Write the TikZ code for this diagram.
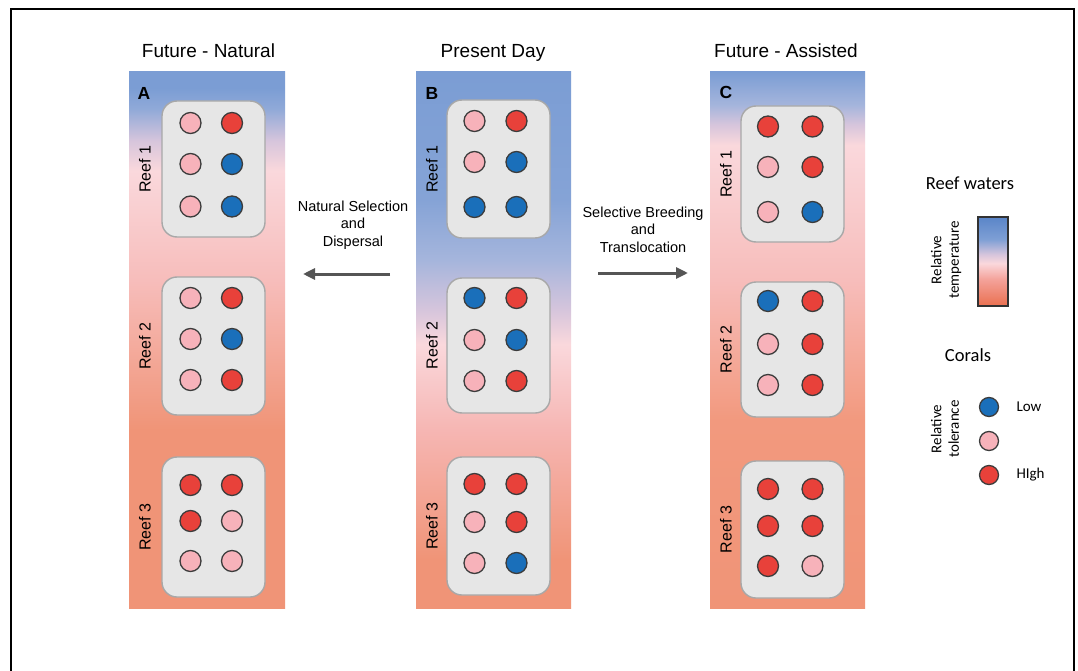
\documentclass[tikz,border=0pt]{standalone}
\usepackage{fontspec}
\setmainfont{Liberation Sans}
\newfontfamily\calfont{Carlito}
\usetikzlibrary{arrows.meta}
\definecolor{cpink}{HTML}{F7B2BA}
\definecolor{cred}{HTML}{E8413A}
\definecolor{cblue}{HTML}{1A6FBA}
\definecolor{sal}{HTML}{F09477}
\definecolor{salb}{HTML}{F2997E}
\definecolor{pkA}{HTML}{F7BDBB}
\definecolor{pkB}{HTML}{F6B6B3}
\definecolor{pale}{HTML}{FAD8DC}
\definecolor{lav}{HTML}{D6C5DC}
\definecolor{bluA}{HTML}{8FA9D8}
\definecolor{bluB}{HTML}{A5B5DC}
\definecolor{bluC}{HTML}{85A3D6}
\definecolor{blu}{HTML}{7B9DD4}
\definecolor{lgbot}{HTML}{EA7050}
\definecolor{lgpk}{HTML}{F4A29A}
\definecolor{lgblu}{HTML}{7E9FD5}
\definecolor{lgtop}{HTML}{5A85C8}
\definecolor{arrowgray}{HTML}{555555}
\pgfdeclareverticalshading{shA}{100bp}{color(0bp)=(sal); color(25bp)=(sal); color(41.6bp)=(sal); color(55.6bp)=(pkA); color(65.8bp)=(pale); color(68.6bp)=(lav); color(71.6bp)=(bluA); color(73.5bp)=(blu); color(100bp)=(blu)}
\pgfdeclareverticalshading{shB}{100bp}{color(0bp)=(sal); color(25bp)=(sal); color(29.5bp)=(sal); color(41.6bp)=(pkB); color(49.6bp)=(pale); color(52.8bp)=(lav); color(57.5bp)=(bluB); color(63.1bp)=(bluC); color(75bp)=(blu); color(100bp)=(blu)}
\pgfdeclareverticalshading{shC}{100bp}{color(0bp)=(sal); color(25bp)=(sal); color(42.5bp)=(salb); color(55.6bp)=(pkA); color(68.2bp)=(pale); color(70.1bp)=(lav); color(71.9bp)=(bluB); color(75bp)=(blu); color(100bp)=(blu)}
\pgfdeclareverticalshading{shL}{100bp}{color(0bp)=(lgbot); color(25bp)=(lgbot); color(40bp)=(lgpk); color(49bp)=(pale); color(54bp)=(lav); color(62.5bp)=(lgblu); color(75bp)=(lgtop); color(100bp)=(lgtop)}
\tikzset{
  panel/.style={inner sep=0pt, minimum height=536, draw=none},
  reefbox/.style={draw={rgb,255:red,168;green,168;blue,168}, line width=1.4pt, fill={rgb,255:red,230;green,230;blue,230}, rounded corners=15pt, minimum width=103, inner sep=0pt},
  coral/.style={circle, draw={rgb,255:red,60;green,60;blue,60}, line width=1.3pt, minimum size=21, inner sep=0pt},
  lcoral/.style={coral, minimum size=19},
  reeflab/.style={rotate=90, font=\fontsize{16}{18}\selectfont},
  title/.style={anchor=base, font=\fontsize{19}{22}\selectfont},
  letter/.style={anchor=base, font=\fontsize{17.5}{19}\selectfont\bfseries},
  arrowtxt/.style={align=center, font=\fontsize{14.5}{17.5}\selectfont},
  bigarrow/.style={draw=arrowgray, line width=3pt, -{Triangle[length=12pt,width=11pt]}},
  legtitle/.style={font=\calfont\fontsize{18.5}{20}\selectfont},
  legtxt/.style={font=\calfont\fontsize{15}{17.5}\selectfont, align=center}
}
\begin{document}
\begin{tikzpicture}[x=1pt,y=-1pt]
\useasboundingbox (0,0) rectangle (1078,671);
\fill[white] (0,0) rectangle (1078,671);
\draw[line width=1.5pt] (11,671) -- (11,9) -- (1074,9) -- (1074,671);

% panels
\node[panel, shading=shA, minimum width=156] (pA) at (207,340) {};
\node[panel, shading=shB, minimum width=155] (pB) at (493.5,340) {};
\node[panel, shading=shC, minimum width=155] (pC) at (787.5,340) {};

% titles
\node[title] (tA) at (208.5,58) {Future - Natural};
\node[title] (tB) at (493,58) {Present Day};
\node[title] (tC) at (786,58) {Future - Assisted};
\node[letter] (lA) at (144,100) {A};
\node[letter] (lB) at (432,100) {B};
\node[letter] (lC) at (726,99) {C};

% panel A
\foreach \r/\cy/\h/\ya/\yb/\yc/\ca/\cb/\cc/\cd/\ce/\cf in {
 1/169/136/123/164/206.5/cpink/cred/cpink/cblue/cpink/cblue,
 2/346/138/298/339/380/cpink/cred/cpink/cblue/cpink/cred,
 3/527/140/485/521/561/cred/cred/cred/cpink/cpink/cpink}{
 \node[reefbox, minimum height=\h] (A-box\r) at (213.5,\cy) {};
 \node[reeflab] (A-lab\r) at (145,\cy) {Reef \r};
 \node[coral, fill=\ca] (A-\r-1) at (190.5,\ya) {};
 \node[coral, fill=\cb] (A-\r-2) at (232,\ya) {};
 \node[coral, fill=\cc] (A-\r-3) at (190.5,\yb) {};
 \node[coral, fill=\cd] (A-\r-4) at (232,\yb) {};
 \node[coral, fill=\ce] (A-\r-5) at (190.5,\yc) {};
 \node[coral, fill=\cf] (A-\r-6) at (232,\yc) {};
}
% panel B
\foreach \r/\cy/\h/\ya/\yb/\yc/\ca/\cb/\cc/\cd/\ce/\cf in {
 1/169/138/121/162/207/cpink/cred/cpink/cblue/cblue/cblue,
 2/345.5/135/298/340/381/cblue/cred/cpink/cblue/cpink/cred,
 3/526/138/484/522/563/cred/cred/cpink/cred/cpink/cblue}{
 \node[reefbox, minimum height=\h] (B-box\r) at (498.5,\cy) {};
 \node[reeflab] (B-lab\r) at (432,\cy) {Reef \r};
 \node[coral, fill=\ca] (B-\r-1) at (474.5,\ya) {};
 \node[coral, fill=\cb] (B-\r-2) at (516.5,\ya) {};
 \node[coral, fill=\cc] (B-\r-3) at (474.5,\yb) {};
 \node[coral, fill=\cd] (B-\r-4) at (516.5,\yb) {};
 \node[coral, fill=\ce] (B-\r-5) at (474.5,\yc) {};
 \node[coral, fill=\cf] (B-\r-6) at (516.5,\yc) {};
}
% panel C
\foreach \r/\cy/\h/\ya/\yb/\yc/\ca/\cb/\cc/\cd/\ce/\cf in {
 1/174/136/126.5/167/212/cred/cred/cpink/cred/cpink/cblue,
 2/349.5/135/301/344/385/cblue/cred/cpink/cred/cpink/cred,
 3/529.5/137/489/526/566/cred/cred/cred/cred/cred/cpink}{
 \node[reefbox, minimum height=\h] (C-box\r) at (792.5,\cy) {};
 \node[reeflab] (C-lab\r) at (726,\cy) {Reef \r};
 \node[coral, fill=\ca] (C-\r-1) at (768,\ya) {};
 \node[coral, fill=\cb] (C-\r-2) at (812.5,\ya) {};
 \node[coral, fill=\cc] (C-\r-3) at (768,\yb) {};
 \node[coral, fill=\cd] (C-\r-4) at (812.5,\yb) {};
 \node[coral, fill=\ce] (C-\r-5) at (768,\yc) {};
 \node[coral, fill=\cf] (C-\r-6) at (812.5,\yc) {};
}

% arrows
\node[arrowtxt] (nsd) at (353,225) {Natural Selection\\and\\Dispersal};
\coordinate (nsS) at (390,274);
\coordinate (nsE) at (303,274);
\draw[bigarrow] (nsS) -- (nsE);
\node[arrowtxt] (sbt) at (643,229.5) {Selective Breeding\\and\\Translocation};
\coordinate (sbS) at (598,273);
\coordinate (sbE) at (688,273);
\draw[bigarrow] (sbS) -- (sbE);

% legend
\node[legtitle] (lgw) at (970,183) {Reef waters};
\node[draw={rgb,255:red,50;green,50;blue,50}, line width=1.4pt, shading=shL, minimum width=30, minimum height=89, inner sep=0pt] (lgbar) at (993,261.5) {};
\node[legtxt, rotate=90] (lgrt) at (946,260) {Relative\\temperature};
\node[legtitle] (lgc) at (968,355) {Corals};
\node[lcoral, fill=cblue] (lg1) at (989,407) {};
\node[lcoral, fill=cpink] (lg2) at (989,441) {};
\node[lcoral, fill=cred] (lg3) at (989,475) {};
\node[legtxt, anchor=west] (lglow) at (1013,407) {Low};
\node[legtxt, anchor=west] (lghigh) at (1013,475) {HIgh};
\node[legtxt, rotate=90] (lgrtol) at (945,429) {Relative\\tolerance};
\end{tikzpicture}
\end{document}
